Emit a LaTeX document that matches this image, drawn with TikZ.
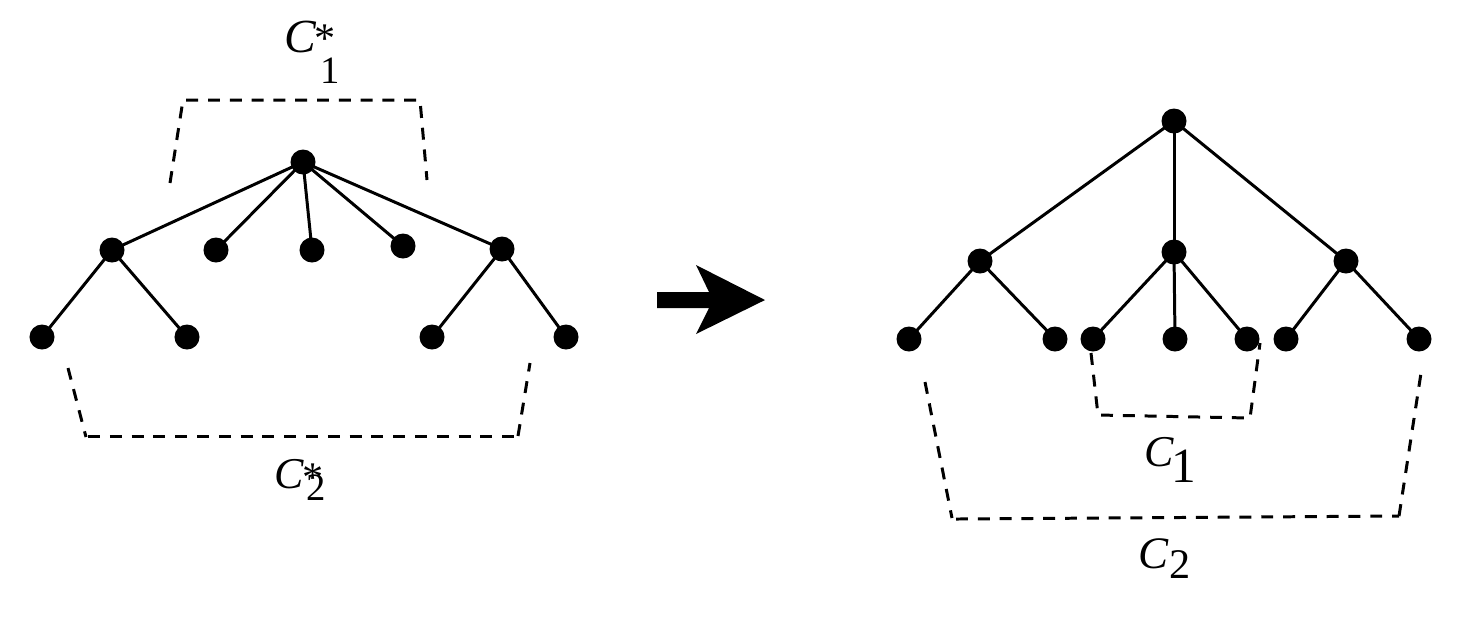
\documentclass[tikz,border=0pt]{standalone}
\usepackage{fontspec}
\setmainfont{Liberation Serif}
\begin{document}
\begin{tikzpicture}[x=0.01cm,y=-0.01cm,
  dot/.style={circle,fill=black,draw=none,minimum size=0.25cm,inner sep=0pt},
  edge/.style={line width=0.85pt,black},
  bracket/.style={line width=0.85pt,dash pattern=on 3.4pt off 2.8pt,black},
  lab/.style={inner sep=0pt,anchor=base},
  star/.style={inner sep=0pt,anchor=north}]
\useasboundingbox (0,0) rectangle (1458,629);
% ---------- left tree ----------
\node[dot] (lr) at (303,162) {};
\node[dot] (la) at (112,250) {};
\node[dot] (lb) at (216,250) {};
\node[dot] (lc) at (312,250) {};
\node[dot] (ld) at (403,246) {};
\node[dot] (le) at (502,249) {};
\node[dot] (la1) at (42,337) {};
\node[dot] (la2) at (187,337) {};
\node[dot] (le1) at (432,337) {};
\node[dot] (le2) at (566,337) {};
\foreach \c in {la,lb,lc,ld,le} \draw[edge] (lr.center) -- (\c.center);
\draw[edge] (la.center) -- (la1.center);
\draw[edge] (la.center) -- (la2.center);
\draw[edge] (le.center) -- (le1.center);
\draw[edge] (le.center) -- (le2.center);
% brackets left
\coordinate (t1) at (170,183);
\coordinate (t2) at (183,100);
\coordinate (t3) at (420,100);
\coordinate (t4) at (427,180);
\draw[bracket] (t1) -- (t2) -- (t3) -- (t4);
\coordinate (b1) at (68,368);
\coordinate (b2) at (86,437);
\coordinate (b3) at (518,436);
\coordinate (b4) at (530,363);
\draw[bracket] (b1) -- (b2);
\draw[bracket] (88,436) -- (b3);
\draw[bracket] (b3) -- (b4);
% labels left
\node[lab,font=\fontsize{13.5}{15}\selectfont\itshape] (c1C) at (300,52) {C};
\node[star,font=\fontsize{12}{14}\selectfont] (c1s) at (325,24) {*};
\node[lab,font=\fontsize{11}{12}\selectfont] (c1n) at (330,83) {1};
\node[lab,font=\fontsize{12.5}{14}\selectfont\itshape] (c2C) at (289,488) {C};
\node[star,font=\fontsize{12}{14}\selectfont] (c2s) at (313,463) {*};
\node[lab,font=\fontsize{11}{12}\selectfont] (c2n) at (316,500) {2};
% ---------- arrow ----------
\fill[black] (657,292) -- (709,292) -- (696,265) -- (765,300) -- (696,334) -- (709,308) -- (657,308) -- cycle;
% ---------- right tree ----------
\node[dot] (rr) at (1174,121) {};
\node[dot] (ra) at (980,261) {};
\node[dot] (rb) at (1174,252) {};
\node[dot] (rc) at (1346,261) {};
\node[dot] (ra1) at (909,339) {};
\node[dot] (ra2) at (1055,339) {};
\node[dot] (rb1) at (1093,339) {};
\node[dot] (rb2) at (1175,339) {};
\node[dot] (rb3) at (1247,339) {};
\node[dot] (rc1) at (1286,339) {};
\node[dot] (rc2) at (1419,339) {};
\foreach \c in {ra,rb,rc} \draw[edge] (rr.center) -- (\c.center);
\draw[edge] (ra.center) -- (ra1.center);
\draw[edge] (ra.center) -- (ra2.center);
\draw[edge] (rb.center) -- (rb1.center);
\draw[edge] (rb.center) -- (rb2.center);
\draw[edge] (rb.center) -- (rb3.center);
\draw[edge] (rc.center) -- (rc1.center);
\draw[edge] (rc.center) -- (rc2.center);
% brackets right
\coordinate (p1) at (1091,353);
\coordinate (p2) at (1098,415);
\coordinate (p3) at (1250,418);
\coordinate (p4) at (1260,343);
\draw[bracket] (p1) -- (p2) -- (p3) -- (p4);
\coordinate (q1) at (925,382);
\coordinate (q2) at (952,518);
\coordinate (q3) at (1399,516);
\coordinate (q4) at (1421,373);
\draw[bracket] (q1) -- (q2);
\draw[bracket] (956,519) -- (q3);
\draw[bracket] (q3) -- (q4);
% labels right
\node[lab,font=\fontsize{12.5}{14}\selectfont\itshape] (r1C) at (1159,466) {C};
\node[lab,font=\fontsize{14}{16}\selectfont] (r1n) at (1184,482) {1};
\node[lab,font=\fontsize{12.8}{14}\selectfont\itshape] (r2C) at (1153,568) {C};
\node[lab,font=\fontsize{12}{14}\selectfont] (r2n) at (1180,578) {2};
\end{tikzpicture}
\end{document}
